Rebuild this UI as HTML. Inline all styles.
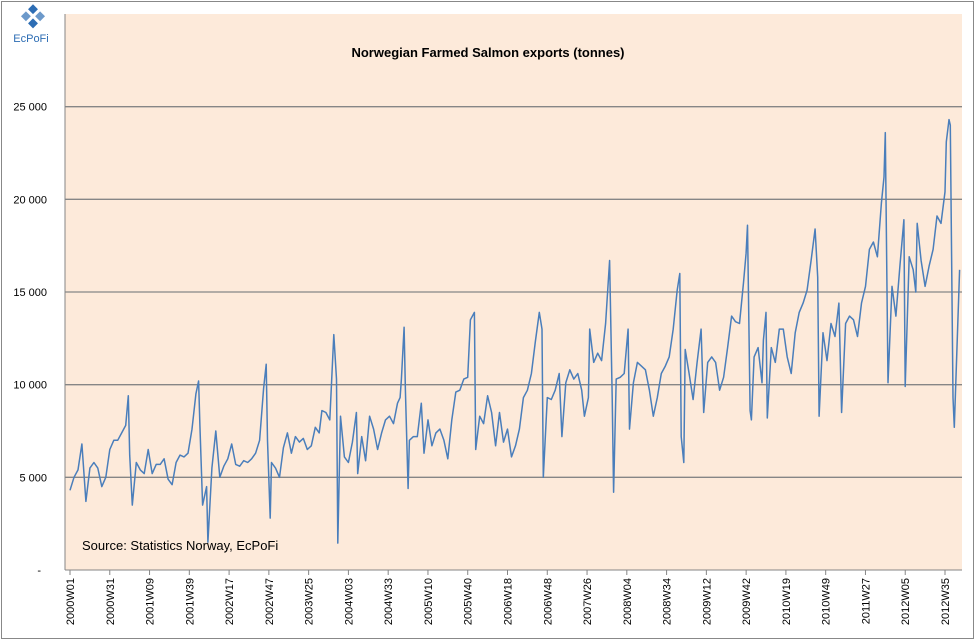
<!DOCTYPE html>
<html><head><meta charset="utf-8"><style>
html,body{margin:0;padding:0;background:#fff;}
svg{display:block;font-family:"Liberation Sans",sans-serif;}
</style></head><body>
<svg id="chart" width="976" height="641">
<rect x="1.5" y="1.5" width="972" height="637" fill="#fff" stroke="#888"/>
<rect x="65" y="14" width="897" height="556" fill="#FDEADA"/>
<g>
<g transform="translate(33,17) rotate(45)" fill="#2d6db4"><rect x="-9" y="-9" width="7" height="7"/><rect x="1" y="-9" width="7" height="7" opacity=".7"/><rect x="-9" y="1" width="7" height="7" opacity=".7"/><rect x="1" y="1" width="7" height="7"/></g>
<text x="31" y="42" font-size="11" fill="#2d6db4" text-anchor="middle">EcPoFi</text>
</g>
<text x="488" y="57" font-size="13" font-weight="bold" text-anchor="middle">Norwegian Farmed Salmon exports (tonnes)</text>
<g id="grid"></g><g id="yaxis"></g><g id="xaxis"></g>
<path id="line" fill="none" stroke="#4a7ebb" stroke-width="1.5" stroke-linejoin="round"/>
<text x="82" y="550" font-size="13">Source: Statistics Norway, EcPoFi</text>
</svg>
<script>
const yTicks=[0,5000,10000,15000,20000,25000];
const yTickLabels=["-","5 000","10 000","15 000","20 000","25 000"];
const xTickLabels=["2000W01","2000W31","2001W09","2001W39","2002W17","2002W47","2003W25","2004W03","2004W33","2005W10","2005W40","2006W18","2006W48","2007W26","2008W04","2008W34","2009W12","2009W42","2010W19","2010W49","2011W27","2012W05","2012W35"];
const sampleWeek=[0,3,6,9,12,15,18,21,24,27,30,33,36,39,42,44,45,47,50,53,56,59,62,65,68,71,74,77,80,83,86,89,92,95,97,98,100,103,104,107,110,113,116,119,122,125,128,131,134,137,140,143,146,148,149,151,152,155,158,161,164,167,170,173,176,179,182,185,188,190,193,196,199,201,202,204,207,210,213,216,217,220,223,226,229,232,235,238,241,244,247,249,250,252,253,255,256,259,262,265,267,270,273,276,279,282,285,288,291,294,297,300,302,305,306,309,312,315,318,321,324,327,330,333,336,339,342,345,348,351,354,356,357,360,363,366,369,371,374,377,380,383,386,388,391,392,395,398,401,404,407,409,410,412,415,418,421,422,425,428,431,434,437,440,443,446,449,452,455,458,460,461,463,464,467,470,473,476,478,481,484,487,490,493,496,499,502,505,508,510,511,513,514,516,519,522,523,525,526,529,532,535,538,541,544,547,550,553,556,559,562,564,565,568,571,574,577,580,582,585,588,591,594,597,600,603,606,609,612,614,615,617,620,623,626,629,630,633,636,638,639,642,645,648,651,654,657,660,661,663,664,666,667,671];
const exportsTonnes=[4300,5000,5400,6800,3700,5500,5800,5500,4500,5000,6500,7000,7000,7400,7800,9400,6200,3500,5800,5400,5200,6500,5200,5700,5700,6000,4900,4600,5800,6200,6100,6300,7600,9500,10200,7800,3500,4500,1500,5500,7500,5000,5600,6000,6800,5700,5600,5900,5800,6000,6300,7000,9800,11100,7000,2800,5800,5500,5000,6600,7400,6300,7200,6900,7100,6500,6700,7700,7400,8600,8500,8100,12700,10300,1450,8300,6100,5800,6900,8500,5200,7200,5900,8300,7600,6500,7400,8100,8300,7900,9000,9300,10300,13100,9700,4400,7000,7200,7200,9000,6300,8100,6700,7400,7600,7000,6000,8100,9600,9700,10300,10400,13500,13900,6500,8300,7900,9400,8500,6700,8500,6900,7600,6100,6700,7600,9300,9700,10600,12300,13900,13000,5000,9300,9200,9700,10600,7200,10100,10800,10300,10600,9700,8300,9300,13000,11200,11700,11300,13300,16700,9300,4200,10300,10400,10600,13000,7600,10100,11200,11000,10800,9700,8300,9300,10600,11000,11500,13000,15100,16000,7200,5800,11900,10600,9200,11200,13000,8500,11200,11500,11200,9700,10400,12000,13700,13400,13300,15500,17100,18600,8600,8100,11500,12000,10100,12400,13900,8200,12000,11200,13000,13000,11500,10600,12800,13900,14400,15100,16700,18400,15800,8300,12800,11300,13300,12600,14400,8500,13300,13700,13500,12600,14400,15300,17300,17700,16900,19800,21200,23600,10100,15300,13700,16400,18900,9900,16900,16200,15000,18700,16700,15300,16400,17300,19100,18700,20400,23100,24300,24000,9300,7700,16200];
const NS="http://www.w3.org/2000/svg";
const X0=70,X1=945,W0=0,W1=660,PT=14,PB=570,YMAX=30000;
function xs(w){return X0+(w-W0)*(X1-X0)/(W1-W0);}
function ys(v){return PB-(v/YMAX)*(PB-PT);}
function mk(tag,attrs,parent){const e=document.createElementNS(NS,tag);for(const k in attrs)e.setAttribute(k,attrs[k]);parent.appendChild(e);return e;}
const grid=document.getElementById('grid'),ya=document.getElementById('yaxis'),xa=document.getElementById('xaxis');
yTicks.forEach((t,i)=>{
  if(t>0){const g=mk('line',{x1:65,x2:962,y1:ys(t),y2:ys(t),stroke:'#868686','stroke-width':1.3},grid);
  
  }
  const l=mk('text',{x:t===0?41:47,y:ys(t)+4,'font-size':11,'text-anchor':'end'},ya);
  l.textContent=yTickLabels[i];
  
  
});
const ax=mk('line',{x1:65,x2:65,y1:14,y2:570,stroke:'#868686'},ya);


const bx=mk('line',{x1:65,x2:962,y1:570,y2:570,stroke:'#868686'},xa);


xTickLabels.forEach((s,i)=>{
  const x=xs(i*30);
  const tk=mk('line',{x1:x,x2:x,y1:570,y2:575,stroke:'#868686'},xa);
  
  
  const t=mk('text',{x:0,y:0,'font-size':11,'text-anchor':'end',transform:`translate(${x+4},578) rotate(-90)`},xa);
  t.textContent=s;
  
  
});
let d='';
const n=Math.min(sampleWeek.length,exportsTonnes.length);
for(let i=0;i<n;i++){d+=(i?'L':'M')+xs(sampleWeek[i]).toFixed(1)+','+ys(exportsTonnes[i]).toFixed(1);}
document.getElementById('line').setAttribute('d',d);
</script>
</body></html>
